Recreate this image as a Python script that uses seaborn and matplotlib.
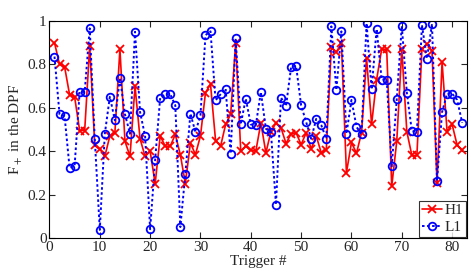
import numpy as np
import pandas as pd
import seaborn as sns
import matplotlib.pyplot as plt

# trigger numbers and F+ values per detector
triggers = list(range(1, 83))

h1 = [0.90, 0.80, 0.79, 0.66, 0.65, 0.495, 0.495, 0.885, 0.426, 0.41,
      0.376, 0.47, 0.485, 0.87, 0.446, 0.376, 0.70, 0.457, 0.376, 0.40,
      0.25, 0.47, 0.423, 0.423, 0.477, 0.384, 0.25, 0.438, 0.384, 0.47,
      0.67, 0.708, 0.449, 0.423, 0.523, 0.57, 0.90, 0.40, 0.423, 0.404,
      0.40, 0.53, 0.392, 0.49, 0.53, 0.508, 0.435, 0.48, 0.485, 0.43,
      0.485, 0.41, 0.47, 0.392, 0.407, 0.878, 0.855, 0.90, 0.30, 0.44,
      0.39, 0.485, 0.83, 0.523, 0.73, 0.87, 0.87, 0.238, 0.446, 0.87,
      0.49, 0.38, 0.38, 0.87, 0.893, 0.862, 0.253, 0.81, 0.49, 0.523,
      0.427, 0.404]

l1 = [0.836, 0.57, 0.562, 0.323, 0.333, 0.673, 0.673, 0.966, 0.457, 0.037,
      0.48, 0.651, 0.542, 0.739, 0.57, 0.48, 0.95, 0.58, 0.47, 0.04,
      0.361, 0.647, 0.662, 0.662, 0.611, 0.05, 0.296, 0.573, 0.488, 0.565,
      0.935, 0.952, 0.634, 0.662, 0.688, 0.389, 0.92, 0.523, 0.642, 0.523,
      0.52, 0.673, 0.503, 0.488, 0.153, 0.647, 0.608, 0.786, 0.793, 0.611,
      0.534, 0.457, 0.549, 0.52, 0.457, 0.975, 0.682, 0.952, 0.48, 0.636,
      0.512, 0.477, 0.99, 0.685, 0.963, 0.73, 0.73, 0.33, 0.639, 0.978,
      0.67, 0.492, 0.49, 0.981, 0.827, 0.986, 0.264, 0.58, 0.665, 0.665,
      0.636, 0.531]

df = pd.DataFrame({
    "trigger": triggers * 2,
    "fplus": h1 + l1,
    "ifo": ["H1"] * len(h1) + ["L1"] * len(l1),
})

sns.set_style("ticks")
plt.rcParams["font.family"] = ["Liberation Serif", "DejaVu Serif"]
plt.rcParams["mathtext.fontset"] = "stix"

fig = plt.figure(figsize=(4.71, 2.76), dpi=100)
ax = fig.add_axes([0.105, 0.138, 0.887, 0.786])

sns.lineplot(data=df[df.ifo == "H1"], x="trigger", y="fplus", ax=ax,
             color="red", marker="x", markersize=5.5, markeredgewidth=1.3,
             markeredgecolor="red", linewidth=1.2, label="H1")
sns.lineplot(data=df[df.ifo == "L1"], x="trigger", y="fplus", ax=ax,
             color="blue", marker="o", markersize=5.5, markerfacecolor="none",
             markeredgecolor="blue", markeredgewidth=1.3,
             linewidth=1.4, dashes=False, linestyle=(0, (1.3, 1.3)), label="L1")

ax.set_xlim(0, 83)
ax.set_ylim(0, 1)
ax.set_xticks(range(0, 81, 10))
ax.set_yticks([0, 0.2, 0.4, 0.6, 0.8, 1])
ax.set_yticklabels(["0", "0.2", "0.4", "0.6", "0.8", "1"])
ax.tick_params(direction="in", top=True, right=True, labelsize=11,
               length=4, width=0.8, pad=2)
for s in ax.spines.values():
    s.set_visible(True)
    s.set_color("black")
    s.set_linewidth(0.8)

ax.set_xlabel("Trigger #", fontsize=11, labelpad=1)
ax.set_ylabel(r"F$_+$ in the DPF", fontsize=11, labelpad=2)

leg = ax.legend(loc="lower right", fontsize=11, frameon=True, fancybox=False,
                edgecolor="black", handlelength=1.3, handletextpad=0.2,
                borderpad=0.2, labelspacing=0.2, borderaxespad=0.05)
leg.get_frame().set_linewidth(0.8)

fig.savefig("out.png", dpi=100)
